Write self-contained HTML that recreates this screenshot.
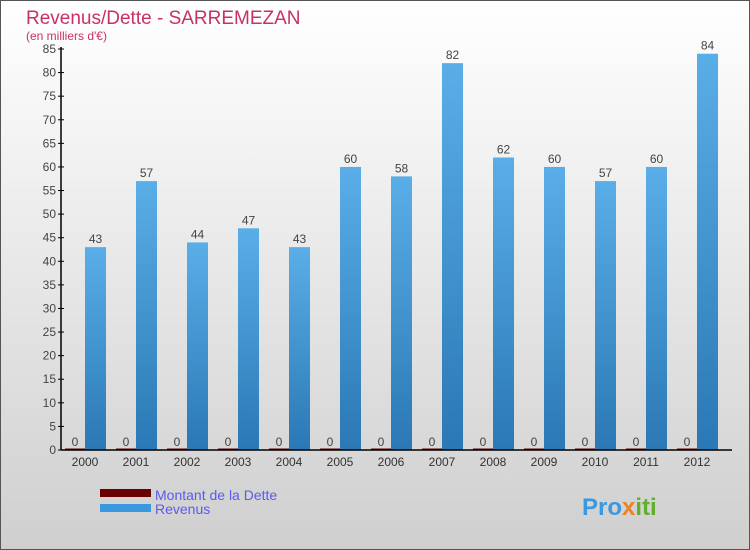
<!DOCTYPE html>
<html><head><meta charset="utf-8"><style>
body{margin:0}
svg{display:block;font-family:"Liberation Sans",sans-serif}
</style></head><body>
<svg id="c" width="750" height="550" xmlns="http://www.w3.org/2000/svg">
<defs>
<linearGradient id="bg" x1="0" y1="0" x2="0" y2="1"><stop offset="0" stop-color="#ffffff"/><stop offset="1" stop-color="#cfcfcf"/></linearGradient>
<linearGradient id="rev" x1="0" y1="0" x2="0" y2="1"><stop offset="0" stop-color="#5aaee8"/><stop offset="1" stop-color="#2a78b5"/></linearGradient>
</defs>
<rect x="0.5" y="0.5" width="749" height="549" fill="url(#bg)" stroke="#555"/>
<text x="26" y="24" font-size="19" fill="#c8306a">Revenus/Dette - SARREMEZAN</text>
<text x="26" y="40" font-size="12" fill="#c8306a">(en milliers d'€)</text>
<g id="plot"></g>
<rect x="100" y="489" width="51" height="8" fill="#6a0000"/>
<text x="155" y="500" font-size="14" fill="#5a5af0">Montant de la Dette</text>
<rect x="100" y="504" width="51" height="8" fill="#3a98e0"/>
<text x="155" y="514" font-size="14" fill="#5a5af0">Revenus</text>
<text x="582" y="515" font-size="24" font-weight="bold" fill="#3a98e0">Pro<tspan fill="#f08020">x</tspan><tspan fill="#60b030">iti</tspan></text>
</svg>
<script>
const years=["2000","2001","2002","2003","2004","2005","2006","2007","2008","2009","2010","2011","2012"];
const debt=[0,0,0,0,0,0,0,0,0,0,0,0,0];
const revenue=[43,57,44,47,43,60,58,82,62,60,57,60,84];
const ticks=[0,5,10,15,20,25,30,35,40,45,50,55,60,65,70,75,80,85];
const NS="http://www.w3.org/2000/svg";
const g=document.getElementById('plot');
const x0=61,gw=51,y0=450,yTop=49,vmax=85;
const Y=v=>y0-(v/vmax)*(y0-yTop);
function mk(t,a,txt){const e=document.createElementNS(NS,t);for(const k in a)e.setAttribute(k,a[k]);if(txt!==undefined)e.textContent=txt;g.appendChild(e);return e;}
ticks.forEach(t=>{
 const l=mk('line',{x1:x0-3,x2:x0+3,y1:Y(t),y2:Y(t),stroke:'#000'});
 
 
 const tx=mk('text',{x:x0-5,y:Y(t)+4,'font-size':12,fill:'#444','text-anchor':'end'},t);
 
 
});
years.forEach((yr,i)=>{
 const gx=x0+i*gw;
 const d=mk('rect',{x:gx+4,y:Y(debt[i])-1.5,width:20,height:Math.max(1.5,y0-Y(debt[i])+1.5),fill:'#6a0000'});
 
 
 const dl=mk('text',{x:gx+14,y:Y(debt[i])-4,'font-size':12,fill:'#444','text-anchor':'middle'},debt[i]);
 
 
 const r=mk('rect',{x:gx+24,y:Y(revenue[i]),width:21,height:y0-Y(revenue[i]),fill:'url(#rev)'});
 
 
 const rl=mk('text',{x:gx+34.5,y:Y(revenue[i])-4,'font-size':12,fill:'#444','text-anchor':'middle'},revenue[i]);
 
 
 const xl=mk('text',{x:gx+24,y:466,'font-size':12,fill:'#333','text-anchor':'middle'},yr);
 
 
});
const ya=mk('line',{x1:x0,x2:x0,y1:yTop-2,y2:y0,stroke:'#000','stroke-width':1.5});


const xa=mk('line',{x1:x0,x2:x0+years.length*gw+8,y1:y0,y2:y0,stroke:'#000','stroke-width':1.5});


</script>
</body></html>
